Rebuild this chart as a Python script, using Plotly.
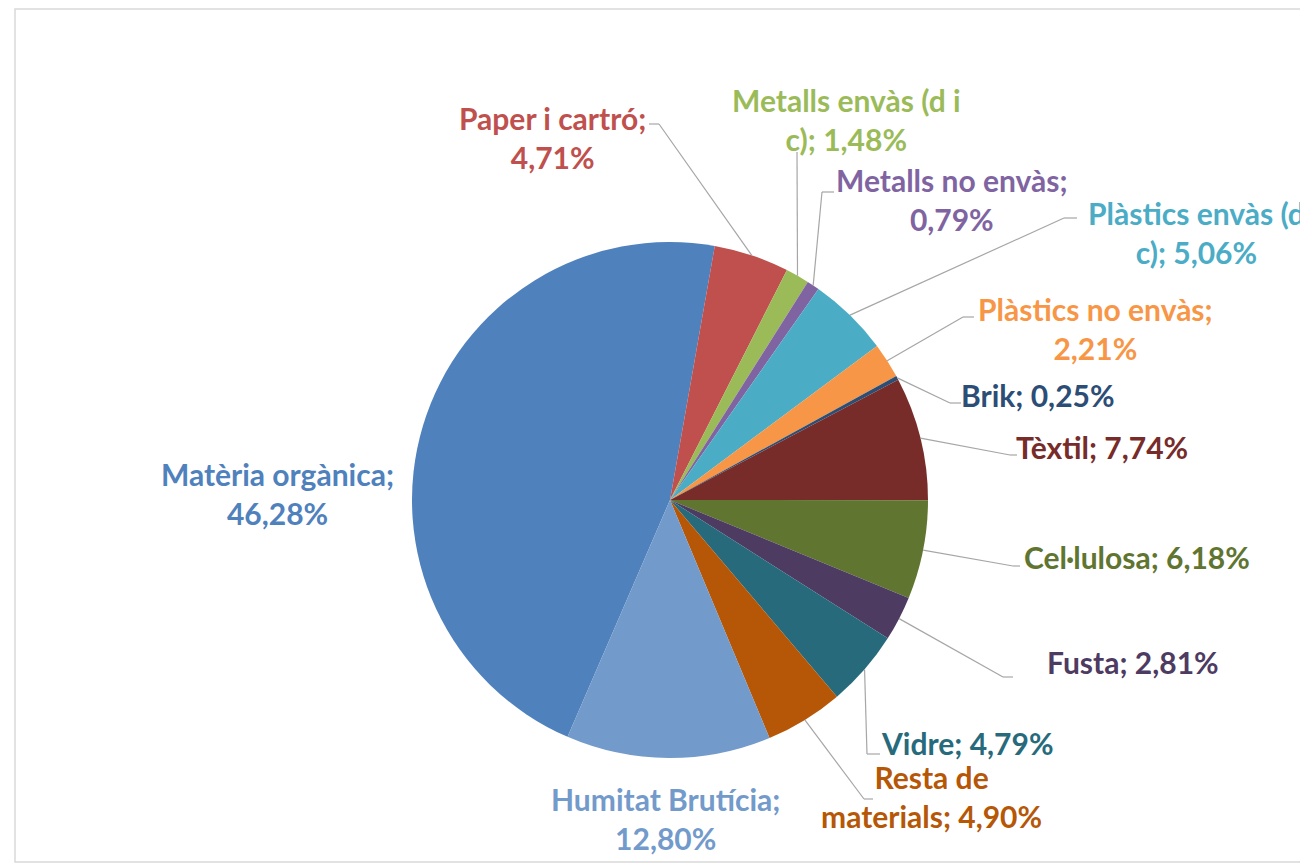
import math
import plotly.graph_objects as go

# ---- data ----
categories = [
    "Matèria orgànica", "Paper i cartró", "Metalls envàs (d i c)", "Metalls no envàs",
    "Plàstics envàs (d c)", "Plàstics no envàs", "Brik", "Tèxtil", "Cel·lulosa",
    "Fusta", "Vidre", "Resta de materials", "Humitat Brutícia",
]
values = [46.28, 4.71, 1.48, 0.79, 5.06, 2.21, 0.25, 7.74, 6.18, 2.81, 4.79, 4.90, 12.80]
label_texts = [
    "Matèria orgànica;<br>46,28%",
    "Paper i cartró;<br>4,71%",
    "Metalls envàs (d i<br>c); 1,48%",
    "Metalls no envàs;<br>0,79%",
    "Plàstics envàs (d<br>c); 5,06%",
    "Plàstics no envàs;<br>2,21%",
    "Brik; 0,25%",
    "Tèxtil; 7,74%",
    "Cel·lulosa; 6,18%",
    "Fusta; 2,81%",
    "Vidre; 4,79%",
    "Resta de<br>materials; 4,90%",
    "Humitat Brutícia;<br>12,80%",
]

# ---- style / layout ----
colors = ["#4F81BD", "#C0504D", "#9BBB59", "#8064A2", "#4BACC6", "#F79646", "#2C4D75",
          "#772C2A", "#5F7530", "#4D3B62", "#276A7C", "#B65708", "#729ACA"]
OFF = 8                      # page body margin
W, H = 1308 - OFF, 865 - OFF
CX, CY, R = 670, 500, 258    # target pixel positions in the browser window
START = 10 - values[0] * 3.6  # first slice start angle (clockwise from 12 o'clock)

# label centre positions (window pixels)
label_pos = [(277, 493), (552, 137), (847, 120), (952, 199), (1196, 232), (1095, 328),
             (1038, 395), (1102, 447), (1137, 557), (1133, 662), (967, 743), (931, 796),
             (665, 818)]
# leader lines: (elbow point, tick end) in window pixels, None for no line
leaders = [None, ((659, 124), (649, 124)), ((797, 152), None), ((822, 192), (834, 192)),
           ((1064, 218), (1077, 218)), ((963, 317), (974, 317)), ((950, 403), (961, 403)),
           ((1010, 455), (1017, 455)), ((1013, 566), (1020, 566)), ((1003, 677), (1013, 677)),
           ((867, 754), (880, 754)), ((864, 799), (873, 799)), None]

px = lambda x: (x - OFF) / W
py = lambda y: 1 - (y - OFF) / H

fig = go.Figure(go.Pie(
    labels=categories, values=values, sort=False, direction="clockwise",
    rotation=START, textinfo="none", hoverinfo="label+percent",
    marker=dict(colors=colors, line=dict(width=0)),
    domain=dict(x=[px(CX - R), px(CX + R)], y=[py(CY + R), py(CY - R)]),
    showlegend=False,
))

shapes = []
annotations = []
total = sum(values)
cum = 0.0
FONT = "Lato"
for i, v in enumerate(values):
    mid = START + (cum + v / 2) / total * 360
    cum += v
    ex = CX + R * math.sin(math.radians(mid))
    ey = CY - R * math.cos(math.radians(mid))
    if leaders[i] is not None:
        (bx, by), tick = leaders[i]
        shapes.append(dict(type="line", xref="paper", yref="paper",
                           x0=px(ex), y0=py(ey), x1=px(bx), y1=py(by),
                           line=dict(color="#a6a6a6", width=1.2)))
        if tick is not None:
            shapes.append(dict(type="line", xref="paper", yref="paper",
                               x0=px(bx), y0=py(by), x1=px(tick[0]), y1=py(tick[1]),
                               line=dict(color="#a6a6a6", width=1.2)))
    lx, ly = label_pos[i]
    annotations.append(dict(x=px(lx), y=py(ly), xref="paper", yref="paper",
                            text="<b>" + label_texts[i] + "</b>", showarrow=False,
                            xanchor="center", yanchor="middle", align="center",
                            font=dict(family=FONT, size=30, color=colors[i])))

# outer frame
shapes.append(dict(type="rect", xref="paper", yref="paper", x0=px(15), x1=px(1330),
                   y0=py(862), y1=py(9), line=dict(color="#d9d9d9", width=1.5),
                   fillcolor="rgba(0,0,0,0)", layer="below"))

fig.update_layout(width=W, height=H, margin=dict(l=0, r=0, t=0, b=0),
                  paper_bgcolor="white", plot_bgcolor="white",
                  shapes=shapes, annotations=annotations)
fig.write_html("out.html")
